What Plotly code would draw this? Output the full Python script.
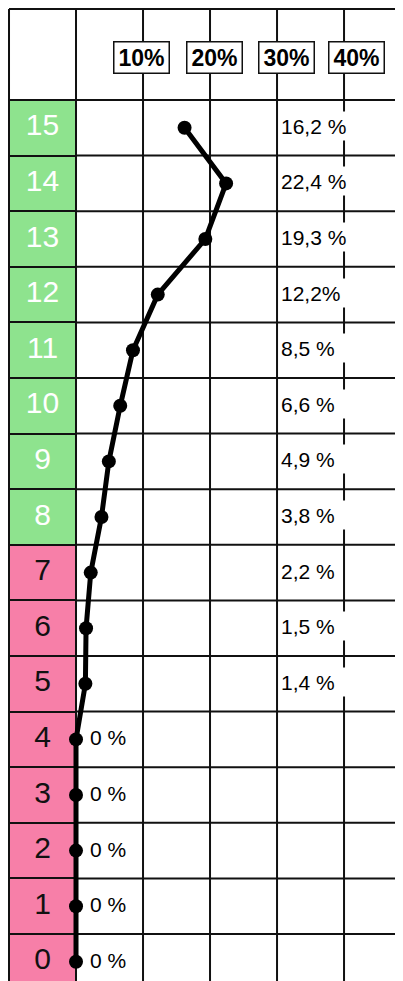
import plotly.graph_objects as go

# ---- data ----
rows = list(range(16))
values = [0, 0, 0, 0, 0, 1.4, 1.5, 2.2, 3.8, 4.9, 6.6, 8.5, 12.2, 19.3, 22.4, 16.2]
value_labels = ["0 %", "0 %", "0 %", "0 %", "0 %", "1,4 %", "1,5 %", "2,2 %", "3,8 %",
                "4,9 %", "6,6 %", "8,5 %", "12,2%", "19,3 %", "22,4 %", "16,2 %"]
row_groups = ["low"] * 8 + ["high"] * 8
header_ticks = [10, 20, 30, 40]
header_labels = ["10%", "20%", "30%", "40%"]

# ---- styles / positions ----
group_fill = {"low": "#f77fa8", "high": "#8ee38e"}
group_text = {"low": "#111111", "high": "#ffffff"}
header_xshift = [-1.5, 4.5, 9.5, 12.5]
label_box_width = [40, 40, 40, 40, 40, 68, 68, 58, 68, 68, 68, 68, 68, 68, 68, 70]
FONT = "Liberation Sans, Arial, sans-serif"
X_RANGE = [-10.15, 48.8]
Y_RANGE = [-0.345, 17.155]
TOP = 17.137
LEFT = -10
HEADER_BOTTOM = rows[-1] + 0.5
HEADER_Y = 16.27

fig = go.Figure()

# left column coloured cells
fig.add_trace(go.Bar(
    y=rows, x=[0 - LEFT] * len(rows), base=LEFT, orientation="h", width=1,
    marker=dict(color=[group_fill[g] for g in row_groups],
                line=dict(color="#111111", width=2)),
    hoverinfo="skip", showlegend=False,
))

# row numbers
fig.add_trace(go.Scatter(
    x=[LEFT / 2] * len(rows), y=rows, mode="text",
    text=[str(r) for r in rows],
    textfont=dict(family=FONT, size=30, color=[group_text[g] for g in row_groups]),
    textposition="middle center", hoverinfo="skip", showlegend=False,
))

# the line
fig.add_trace(go.Scatter(
    x=values, y=rows, mode="lines+markers",
    line=dict(color="#000000", width=5),
    marker=dict(color="#000000", size=14),
    hoverinfo="skip", showlegend=False,
))

shapes = []
# vertical grid lines
for xv in [LEFT, 0] + header_ticks:
    shapes.append(dict(type="line", xref="x", yref="y", x0=xv, x1=xv,
                       y0=Y_RANGE[0], y1=TOP, layer="below",
                       line=dict(color="#111111", width=2)))
# horizontal grid lines
for yv in [r - 0.5 for r in rows] + [HEADER_BOTTOM, TOP]:
    shapes.append(dict(type="line", xref="x", yref="y", x0=LEFT, x1=X_RANGE[1] + 1,
                       y0=yv, y1=yv, layer="below",
                       line=dict(color="#111111", width=2)))

annotations = []
# header boxes
for t, lab, sh in zip(header_ticks, header_labels, header_xshift):
    annotations.append(dict(
        x=t, y=HEADER_Y, xref="x", yref="y", text="<b>%s</b>" % lab, showarrow=False,
        xshift=sh, font=dict(family=FONT, size=23, color="#000000"),
        bgcolor="#ffffff", bordercolor="#111111", borderwidth=1.5, borderpad=1,
        width=52, height=28, align="center", valign="middle",
    ))
# value labels
for r, v, lab, w in zip(rows, values, value_labels, label_box_width):
    near = v == 0
    annotations.append(dict(
        x=2 if near else 30.4, y=r, xref="x", yref="y", text=lab, showarrow=False,
        xanchor="left", yanchor="middle", yshift=2, align="left",
        width=w, height=28,
        font=dict(family=FONT, size=21, color="#000000"),
        bgcolor="#ffffff", borderpad=0,
    ))

fig.update_layout(
    width=395, height=973,
    margin=dict(l=0, r=0, t=0, b=0),
    paper_bgcolor="#ffffff", plot_bgcolor="#ffffff",
    xaxis=dict(range=X_RANGE, visible=False, fixedrange=True),
    yaxis=dict(range=Y_RANGE, visible=False, fixedrange=True),
    shapes=shapes, annotations=annotations, showlegend=False,
    bargap=0,
)

fig.write_html("out.html")
